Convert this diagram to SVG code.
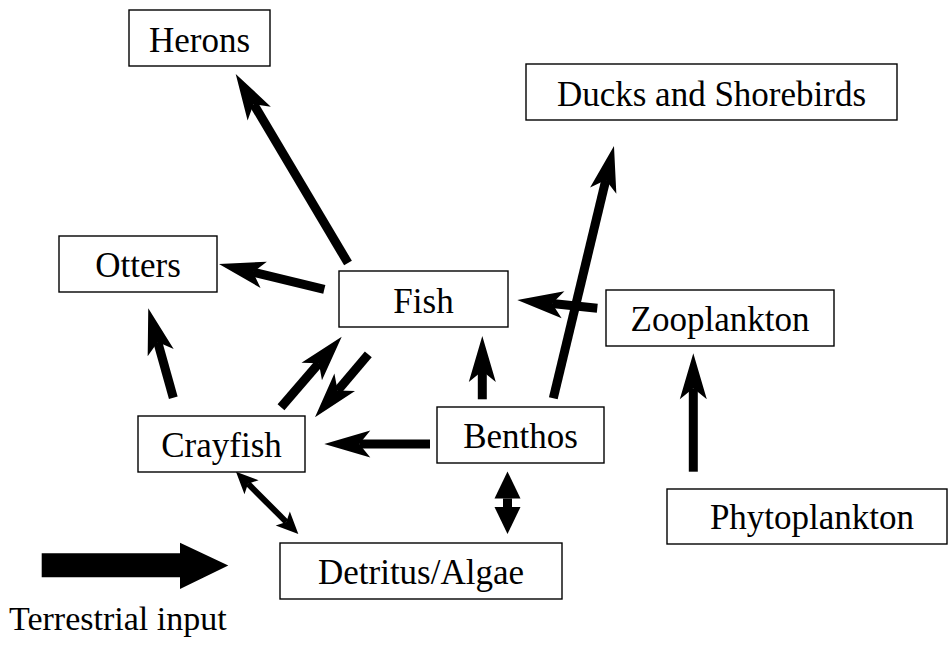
<svg xmlns="http://www.w3.org/2000/svg" width="949" height="646" viewBox="0 0 949 646">
  <style>
    .box { fill: #fff; stroke: #000; stroke-width: 1.4; }
    .lbl { font-family: "Liberation Serif", Tinos, "Times New Roman", Times, "DejaVu Serif", serif; font-size: 35px; fill: #000; text-anchor: middle; }
    .flow { stroke: #000; stroke-width: 9; fill: none; stroke-linecap: butt; }
    .flow-thin { stroke: #000; stroke-width: 6; fill: none; }
  </style>
  <defs>
    <!-- barbed head, line ends at the notch (0,0), tip 35 ahead -->
    <marker id="barb" markerUnits="userSpaceOnUse" orient="auto" overflow="visible" markerWidth="1" markerHeight="1" refX="0" refY="0">
      <path d="M35,0 L-11,-13.5 L0,0 L-11,13.5 Z" fill="#000"/>
    </marker>
    <!-- small barbed head for the two-way link -->
    <marker id="barb-sm" markerUnits="userSpaceOnUse" orient="auto-start-reverse" overflow="visible" markerWidth="1" markerHeight="1" refX="0" refY="0">
      <path d="M17,0 L-5,-10 L0,0 L-5,10 Z" fill="#000"/>
    </marker>
    <!-- plain triangular head -->
    <marker id="tri" markerUnits="userSpaceOnUse" orient="auto-start-reverse" overflow="visible" markerWidth="1" markerHeight="1" refX="0" refY="0">
      <path d="M27,0 L0,-13 L0,13 Z" fill="#000"/>
    </marker>
  </defs>

  <rect width="949" height="646" fill="#fff"/>

  <g id="connectors">
    <line class="flow" x1="348" y1="263" x2="253.6" y2="104.1" marker-end="url(#barb)"/>
    <line class="flow" x1="324.3" y1="289.3" x2="253" y2="272.2" marker-end="url(#barb)"/>
    <line class="flow" x1="173.3" y1="397.7" x2="157.7" y2="342" marker-end="url(#barb)"/>
    <line class="flow" x1="281" y1="407.3" x2="318.9" y2="363.2" marker-end="url(#barb)"/>
    <line class="flow" x1="368.3" y1="354.3" x2="337.6" y2="390.6" marker-end="url(#barb)"/>
    <line class="flow" x1="430" y1="444" x2="359.3" y2="444" marker-end="url(#barb)"/>
    <line class="flow" x1="482.3" y1="399.3" x2="482.3" y2="371" marker-end="url(#barb)"/>
    <line class="flow" x1="553.3" y1="398.3" x2="605.8" y2="180" marker-end="url(#barb)"/>
    <line class="flow" x1="597.3" y1="308.3" x2="552.1" y2="303.6" marker-end="url(#barb)"/>
    <line class="flow" x1="693.3" y1="471.7" x2="693.3" y2="388.3" marker-end="url(#barb)"/>
    <line class="flow-thin" x1="248" y1="483.7" x2="286.3" y2="522" marker-start="url(#barb-sm)" marker-end="url(#barb-sm)"/>
    <line class="flow" x1="507.5" y1="498.5" x2="507.5" y2="507" marker-start="url(#tri)" marker-end="url(#tri)"/>
  </g>

  <g id="herons">
    <rect class="box" x="129" y="10" width="141" height="56"/>
    <text class="lbl" x="199.5" y="52">Herons</text>
  </g>
  <g id="ducks">
    <rect class="box" x="526" y="64" width="371" height="56"/>
    <text class="lbl" x="711.5" y="106">Ducks and Shorebirds</text>
  </g>
  <g id="otters">
    <rect class="box" x="59" y="236" width="158" height="56"/>
    <text class="lbl" x="138" y="277">Otters</text>
  </g>
  <g id="fish">
    <rect class="box" x="339" y="271" width="169" height="56"/>
    <text class="lbl" x="423.5" y="312.5">Fish</text>
  </g>
  <g id="zooplankton">
    <rect class="box" x="606" y="290" width="228" height="56"/>
    <text class="lbl" x="720" y="331">Zooplankton</text>
  </g>
  <g id="crayfish">
    <rect class="box" x="138" y="416" width="167" height="56"/>
    <text class="lbl" x="221.5" y="457">Crayfish</text>
  </g>
  <g id="benthos">
    <rect class="box" x="437" y="407" width="167" height="56"/>
    <text class="lbl" x="520.5" y="448">Benthos</text>
  </g>
  <g id="detritus">
    <rect class="box" x="280" y="543" width="282" height="56"/>
    <text class="lbl" x="421" y="584">Detritus/Algae</text>
  </g>
  <g id="phytoplankton">
    <rect class="box" x="667" y="489" width="280" height="55"/>
    <text class="lbl" x="812" y="529">Phytoplankton</text>
  </g>

  <g id="terrestrial-input">
    <polygon points="41.7,553.3 180,553.3 180,542.7 228.3,565.5 180,589 180,577.3 41.7,577.3" fill="#000"/>
    <text x="9" y="630" font-family="Liberation Serif, Tinos, Times New Roman, Times, DejaVu Serif, serif" font-size="34" fill="#000">Terrestrial input</text>
  </g>
</svg>
